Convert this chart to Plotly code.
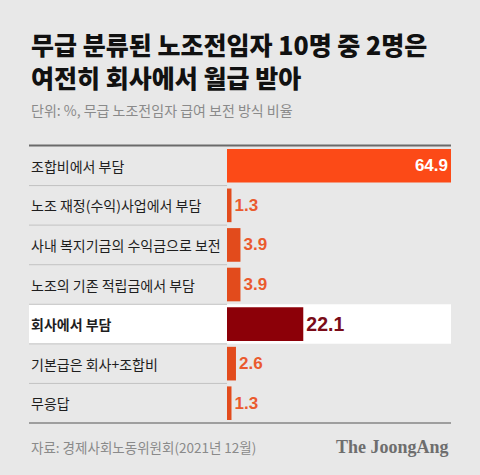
import plotly.graph_objects as go

categories = ["조합비에서 부담", "노조 재정(수익)사업에서 부담", "사내 복지기금의 수익금으로 보전",
              "노조의 기존 적립금에서 부담", "회사에서 부담", "기본급은 회사+조합비", "무응답"]
values = [64.9, 1.3, 3.9, 3.9, 22.1, 2.6, 1.3]
value_labels = ["64.9", "1.3", "3.9", "3.9", "22.1", "2.6", "1.3"]
highlight = "회사에서 부담"
top_cat = "조합비에서 부담"

title_lines = ["무급 분류된 노조전임자 10명 중 2명은", "여전히 회사에서 월급 받아"]
subtitle = "단위: %, 무급 노조전임자 급여 보전 방식 비율"
source = "자료: 경제사회노동위원회(2021년 12월)"
brand = "The JoongAng"

W, H = 480, 475
L, R, T, B = 227, 29, 146, 52
pw, ph = W - L - R, H - T - B
left_px = 29
xl = (left_px - L) / pw


def py(pix):
    return (H - B - pix) / ph


KR = "Noto Sans CJK KR"
NUM = "Liberation Sans, Arial, sans-serif"

bar_colors, txt_colors, txt_sizes, positions = [], [], [], []
for c in categories:
    if c == top_cat:
        bar_colors.append("#fc4a17"); txt_colors.append("#ffffff"); txt_sizes.append(17); positions.append("inside")
    elif c == highlight:
        bar_colors.append("#8c0008"); txt_colors.append("#7a0c18"); txt_sizes.append(19.5); positions.append("outside")
    else:
        bar_colors.append("#e24b1c"); txt_colors.append("#ea5a2e"); txt_sizes.append(17); positions.append("outside")

fig = go.Figure(go.Bar(
    x=values, y=categories, orientation="h",
    marker=dict(color=bar_colors, line=dict(width=0)),
    width=0.85,
    text=value_labels, textposition=positions,
    insidetextanchor="end",
    textfont=dict(color=txt_colors, size=txt_sizes, family=NUM, weight="bold"),
    cliponaxis=False, hoverinfo="skip",
))

shapes = []
shapes.append(dict(type="rect", xref="paper", yref="y", x0=xl, x1=1,
                   y0=categories.index(highlight) - 0.5, y1=categories.index(highlight) + 0.5,
                   fillcolor="#ffffff", line=dict(width=0), layer="below"))
for i in range(len(categories) - 1):
    shapes.append(dict(type="line", xref="paper", yref="y", x0=xl, x1=0, y0=i + 0.5, y1=i + 0.5,
                       line=dict(color="#c2c2c2", width=1), layer="below"))
shapes.append(dict(type="line", xref="paper", yref="paper", x0=xl, x1=1, y0=py(145.5), y1=py(145.5),
                   line=dict(color="#6a6a6a", width=2)))
shapes.append(dict(type="line", xref="paper", yref="paper", x0=xl, x1=1, y0=py(423), y1=py(423),
                   line=dict(color="#555555", width=1)))

ann = []
for c in categories:
    ann.append(dict(xref="paper", yref="y", x=xl, y=c, xanchor="left", yanchor="middle",
                    text=c, showarrow=False,
                    font=dict(family=KR, size=14, color="#1e1e1e",
                              weight=(700 if c == highlight else 400))))
for i, line in enumerate(title_lines):
    ann.append(dict(xref="paper", yref="paper", x=xl, y=py(44 + 33 * i), xanchor="left", yanchor="middle",
                    text=line, showarrow=False,
                    font=dict(family=KR, size=25, color="#111111", weight=900)))
ann.append(dict(xref="paper", yref="paper", x=xl, y=py(110), xanchor="left", yanchor="middle",
                text=subtitle, showarrow=False, font=dict(family=KR, size=14, color="#8a8a8a")))
ann.append(dict(xref="paper", yref="paper", x=xl, y=py(447), xanchor="left", yanchor="middle",
                text=source, showarrow=False, font=dict(family=KR, size=13.5, color="#8a8a8a")))
ann.append(dict(xref="paper", yref="paper", x=1, y=py(447), xanchor="right", yanchor="middle",
                text=brand, showarrow=False,
                font=dict(family="Liberation Serif, serif", size=18, color="#6e6e6e", weight=700)))

fig.update_layout(
    width=W, height=H, margin=dict(l=L, r=R, t=T, b=B),
    paper_bgcolor="#e8e8e8", plot_bgcolor="rgba(0,0,0,0)",
    xaxis=dict(range=[0, max(values)], visible=False, fixedrange=True),
    yaxis=dict(type="category", categoryorder="array", categoryarray=categories,
               range=[len(categories) - 0.5, -0.5], visible=False, fixedrange=True),
    shapes=shapes, annotations=ann, showlegend=False, bargap=0.15,
)
fig.write_html("out.html", config={"displayModeBar": False},
               post_script="document.body.style.margin='0';document.body.style.overflow='hidden';")
